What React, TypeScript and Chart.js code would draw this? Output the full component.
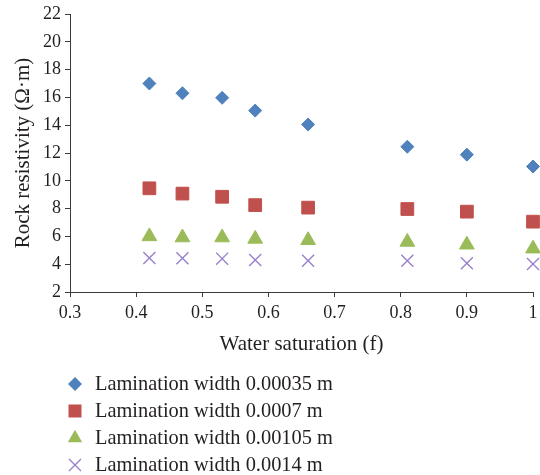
import React, { useEffect, useRef } from 'react';
import { Chart, registerables } from 'chart.js';

Chart.register(...registerables);

// ---- data ----
const X_SAT = [0.42, 0.47, 0.53, 0.58, 0.66, 0.81, 0.9, 1.0];
const W_00035 = [17.0, 16.3, 15.97, 15.05, 14.05, 12.45, 11.88, 11.03];
const W_0007 = [9.46, 9.08, 8.85, 8.25, 8.07, 7.97, 7.78, 7.06];
const W_00105 = [6.0, 5.92, 5.92, 5.82, 5.72, 5.6, 5.4, 5.12];
const W_0014 = [4.44, 4.43, 4.4, 4.3, 4.25, 4.25, 4.07, 4.02];
const SERIES_LABELS = [
  'Lamination width 0.00035 m',
  'Lamination width 0.0007 m',
  'Lamination width 0.00105 m',
  'Lamination width 0.0014 m',
];
const X_TICKS = [0.3, 0.4, 0.5, 0.6, 0.7, 0.8, 0.9, 1];
const Y_MIN = 2;
const Y_MAX = 22;
const Y_STEP = 2;
const X_TITLE = 'Water saturation (f)';
const Y_TITLE = 'Rock resistivity (\u03A9\u00B7m)';

const FONT = '"Liberation Serif", "Times New Roman", serif';
const TEXT = '#231f20';
const AXIS = '#3a3a3a';
const BLUE = '#4f81bd';
const RED = '#c0504d';
const GREEN = '#9bbb59';
const PURPLE = '#9a80cc';

function drawMarker(ctx: CanvasRenderingContext2D, style: string, x: number, y: number, color: string) {
  ctx.save();
  ctx.fillStyle = color;
  ctx.strokeStyle = color;
  ctx.beginPath();
  if (style === 'rectRot') {
    const r = 7;
    ctx.moveTo(x - r, y);
    ctx.lineTo(x, y - r);
    ctx.lineTo(x + r, y);
    ctx.lineTo(x, y + r);
    ctx.closePath();
    ctx.fill();
  } else if (style === 'rect') {
    const s = 6.5;
    ctx.rect(x - s, y - s, 2 * s, 2 * s);
    ctx.fill();
  } else if (style === 'triangle') {
    const r = 8.3;
    ctx.moveTo(x, y - r);
    ctx.lineTo(x + Math.sin((2 * Math.PI) / 3) * r, y + r / 2);
    ctx.lineTo(x - Math.sin((2 * Math.PI) / 3) * r, y + r / 2);
    ctx.closePath();
    ctx.fill();
  } else {
    const d = 6;
    ctx.lineWidth = 1.4;
    ctx.moveTo(x - d, y - d);
    ctx.lineTo(x + d, y + d);
    ctx.moveTo(x + d, y - d);
    ctx.lineTo(x - d, y + d);
    ctx.stroke();
  }
  ctx.restore();
}

const stackedLegend = {
  id: 'stackedLegend',
  afterDraw(chart: any) {
    const ctx: CanvasRenderingContext2D = chart.ctx;
    const area = chart.chartArea;
    ctx.save();
    ctx.font = `20.4px ${FONT}`;
    ctx.textBaseline = 'middle';
    ctx.textAlign = 'left';
    chart.data.datasets.forEach((ds: any, i: number) => {
      const y = area.bottom + 92 + i * 27;
      drawMarker(ctx, ds.pointStyle, area.left + 5, y, ds.pointBackgroundColor || ds.borderColor);
      ctx.fillStyle = TEXT;
      ctx.fillText(ds.label, area.left + 25, y + 1);
    });
    ctx.restore();
  },
};

function toPoints(ys: number[]) {
  return X_SAT.map((x, i) => ({ x, y: ys[i] }));
}

export default function App() {
  const ref = useRef<HTMLCanvasElement>(null);
  useEffect(() => {
    if (!ref.current) return;
    const common = { showLine: false, clip: false as any };
    const chart = new Chart(ref.current, {
      type: 'scatter',
      data: {
        datasets: [
          {
            ...common,
            label: SERIES_LABELS[0],
            data: toPoints(W_00035),
            pointStyle: 'rectRot',
            pointRadius: 6.5,
            pointBorderWidth: 1,
            pointBackgroundColor: BLUE,
            pointBorderColor: BLUE,
            borderColor: BLUE,
            backgroundColor: BLUE,
          },
          {
            ...common,
            label: SERIES_LABELS[1],
            data: toPoints(W_0007),
            pointStyle: 'rect',
            pointRadius: 9,
            pointBorderWidth: 1,
            pointBackgroundColor: RED,
            pointBorderColor: RED,
            borderColor: RED,
            backgroundColor: RED,
          },
          {
            ...common,
            label: SERIES_LABELS[2],
            data: toPoints(W_00105),
            pointStyle: 'triangle',
            pointRadius: 8.5,
            pointBorderWidth: 1,
            pointBackgroundColor: GREEN,
            pointBorderColor: GREEN,
            borderColor: GREEN,
            backgroundColor: GREEN,
          },
          {
            ...common,
            label: SERIES_LABELS[3],
            data: toPoints(W_0014),
            pointStyle: 'crossRot',
            pointRadius: 8.5,
            pointBorderWidth: 1.4,
            pointBackgroundColor: PURPLE,
            pointBorderColor: PURPLE,
            borderColor: PURPLE,
            backgroundColor: PURPLE,
          },
        ] as any,
      },
      options: {
        animation: false,
        responsive: false,
        events: [],
        layout: { autoPadding: false, padding: { top: 14, right: 7, bottom: 118, left: 0 } },
        plugins: {
          legend: { display: false },
          tooltip: { enabled: false },
        },
        scales: {
          x: {
            type: 'linear',
            position: 'bottom',
            min: 0.3,
            max: 1,
            afterBuildTicks: (scale: any) => {
              scale.ticks = X_TICKS.map((v) => ({ value: v }));
            },
            afterFit: (scale: any) => {
              scale.height = 65;
              scale.paddingLeft = 0;
              scale.paddingRight = 0;
            },
            ticks: {
              color: TEXT,
              font: { family: FONT, size: 18 },
              padding: 5,
              maxRotation: 0,
              autoSkip: false,
              callback: (v: any) => String(Math.round(Number(v) * 10) / 10),
            },
            grid: {
              drawOnChartArea: false,
              drawTicks: true,
              tickLength: 5,
              color: AXIS,
              lineWidth: 1,
            },
            border: { display: true, color: AXIS, width: 1 },
            title: {
              display: true,
              text: X_TITLE,
              color: TEXT,
              font: { family: FONT, size: 21 },
              padding: { top: 0, bottom: 0 },
            },
          },
          y: {
            type: 'linear',
            min: Y_MIN,
            max: Y_MAX,
            afterFit: (scale: any) => {
              scale.width = 70;
              scale.paddingTop = 0;
              scale.paddingBottom = 0;
            },
            ticks: {
              stepSize: Y_STEP,
              color: TEXT,
              font: { family: FONT, size: 18 },
              padding: 4,
            },
            grid: {
              drawOnChartArea: false,
              drawTicks: true,
              tickLength: 5,
              color: AXIS,
              lineWidth: 1,
            },
            border: { display: true, color: AXIS, width: 1 },
            title: {
              display: true,
              text: Y_TITLE,
              color: TEXT,
              font: { family: FONT, size: 21 },
              padding: { top: 11, bottom: 0 },
            },
          },
        },
      } as any,
      plugins: [stackedLegend as any],
    });
    return () => chart.destroy();
  }, []);

  return (
    <canvas
      ref={ref}
      width={540}
      height={475}
      style={{ position: 'absolute', left: 0, top: 0, width: 540, height: 475 }}
    />
  );
}
